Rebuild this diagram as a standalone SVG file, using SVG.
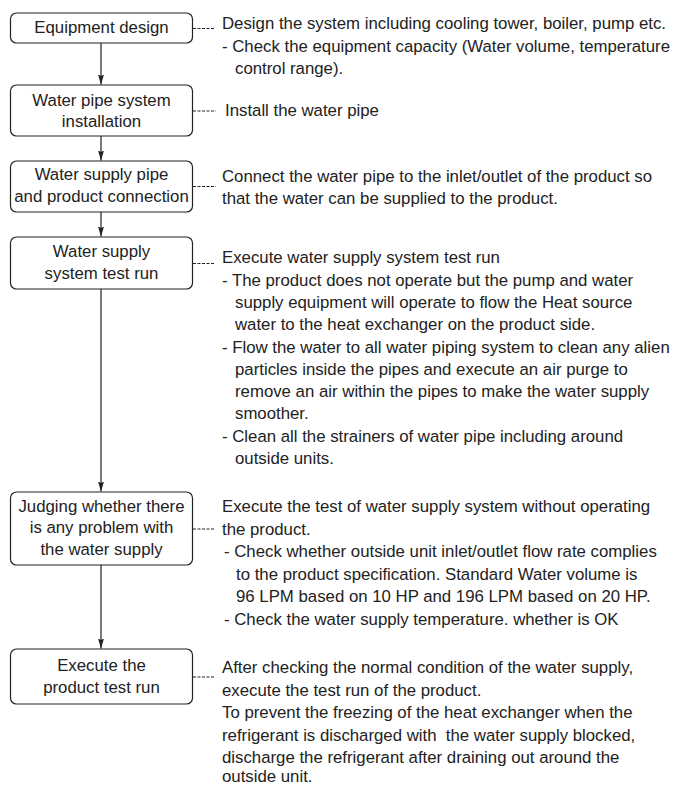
<svg xmlns="http://www.w3.org/2000/svg" width="678" height="785" viewBox="0 0 678 785">
<defs>
<marker id="arr" markerWidth="10" markerHeight="6" refX="10" refY="3" orient="auto" markerUnits="userSpaceOnUse" viewBox="0 0 10 6">
<path d="M0,0 L10,3 L0,6 L1.5,3 Z" fill="#222"/>
</marker>
</defs>
<style>
.box{fill:#fff;stroke:#222;stroke-width:1.2}
.lbl{font-family:"Liberation Sans",Arial,sans-serif;font-size:16.8px;fill:#222;text-anchor:middle}
.txt{font-family:"Liberation Sans",Arial,sans-serif;font-size:16.8px;fill:#222}
.flow{stroke:#222;stroke-width:1.2;fill:none}
.lead{stroke:#222;stroke-width:1;stroke-dasharray:3 1.5;fill:none}
</style>
<rect width="678" height="785" fill="#fff"/>
<g id="connectors">
<line class="flow" x1="101" y1="43" x2="101" y2="84.5" marker-end="url(#arr)"/>
<line class="flow" x1="101" y1="136" x2="101" y2="160.5" marker-end="url(#arr)"/>
<line class="flow" x1="101" y1="212" x2="101" y2="236.5" marker-end="url(#arr)"/>
<line class="flow" x1="101" y1="289" x2="101" y2="491.5" marker-end="url(#arr)"/>
<line class="flow" x1="101" y1="565" x2="101" y2="648.5" marker-end="url(#arr)"/>
<line class="lead" x1="193" y1="28.5" x2="215" y2="28.5"/>
<line class="lead" x1="193" y1="111" x2="216" y2="111"/>
<line class="lead" x1="193" y1="186.5" x2="216" y2="186.5"/>
<line class="lead" x1="193" y1="263.5" x2="215" y2="263.5"/>
<line class="lead" x1="193" y1="529" x2="215" y2="529"/>
<line class="lead" x1="193" y1="677" x2="215" y2="677"/>
</g>
<g id="n1">
<rect class="box" x="10.5" y="13" width="182" height="30" rx="6"/>
<text class="lbl" x="101.5" y="33">Equipment design</text>
<text class="txt" x="222" y="29">Design the system including cooling tower, boiler, pump etc.</text>
<text class="txt" x="222" y="51.5">- Check the equipment capacity (Water volume, temperature</text>
<text class="txt" x="235" y="73.5">control range).</text>
</g>
<g id="n2">
<rect class="box" x="10.5" y="85" width="182" height="51" rx="6"/>
<text class="lbl" x="101.5" y="106">Water pipe system</text>
<text class="lbl" x="101.5" y="127">installation</text>
<text class="txt" x="225" y="115.5">Install the water pipe</text>
</g>
<g id="n3">
<rect class="box" x="10.5" y="161" width="182" height="51" rx="6"/>
<text class="lbl" x="101.5" y="180">Water supply pipe</text>
<text class="lbl" x="101.5" y="202">and product connection</text>
<text class="txt" x="222" y="181.5">Connect the water pipe to the inlet/outlet of the product so</text>
<text class="txt" x="222" y="204">that the water can be supplied to the product.</text>
</g>
<g id="n4">
<rect class="box" x="10.5" y="237" width="182" height="52" rx="6"/>
<text class="lbl" x="101.5" y="257">Water supply</text>
<text class="lbl" x="101.5" y="279">system test run</text>
<text class="txt" x="222" y="262.7">Execute water supply system test run</text>
<text class="txt" x="222" y="285.5">- The product does not operate but the pump and water</text>
<text class="txt" x="235" y="307.7">supply equipment will operate to flow the Heat source</text>
<text class="txt" x="235" y="330">water to the heat exchanger on the product side.</text>
<text class="txt" x="222" y="352.5">- Flow the water to all water piping system to clean any alien</text>
<text class="txt" x="235" y="374.5">particles inside the pipes and execute an air purge to</text>
<text class="txt" x="235" y="396.8">remove an air within the pipes to make the water supply</text>
<text class="txt" x="235" y="419.3">smoother.</text>
<text class="txt" x="222" y="441.7">- Clean all the strainers of water pipe including around</text>
<text class="txt" x="235" y="464.2">outside units.</text>
</g>
<g id="n5">
<rect class="box" x="10.5" y="492" width="182" height="73" rx="6"/>
<text class="lbl" x="101.5" y="511.7">Judging whether there</text>
<text class="lbl" x="101.5" y="533.3">is any problem with</text>
<text class="lbl" x="101.5" y="555">the water supply</text>
<text class="txt" x="222" y="512">Execute the test of water supply system without operating</text>
<text class="txt" x="222" y="534.8">the product.</text>
<text class="txt" x="224" y="557.2">- Check whether outside unit inlet/outlet flow rate complies</text>
<text class="txt" x="236" y="579.7">to the product specification. Standard Water volume is</text>
<text class="txt" x="236" y="602.2">96 LPM based on 10 HP and 196 LPM based on 20 HP.</text>
<text class="txt" x="224" y="624.7">- Check the water supply temperature. whether is OK</text>
</g>
<g id="n6">
<rect class="box" x="10.5" y="649" width="182" height="55" rx="6"/>
<text class="lbl" x="101.5" y="670.7">Execute the</text>
<text class="lbl" x="101.5" y="692.5">product test run</text>
<text class="txt" x="222" y="673">After checking the normal condition of the water supply,</text>
<text class="txt" x="222" y="695.5">execute the test run of the product.</text>
<text class="txt" x="222" y="718">To prevent the freezing of the heat exchanger when the</text>
<text class="txt" x="222" y="740.5" xml:space="preserve">refrigerant is discharged with  the water supply blocked,</text>
<text class="txt" x="222" y="763">discharge the refrigerant after draining out around the</text>
<text class="txt" x="222" y="782">outside unit.</text>
</g>
</svg>
